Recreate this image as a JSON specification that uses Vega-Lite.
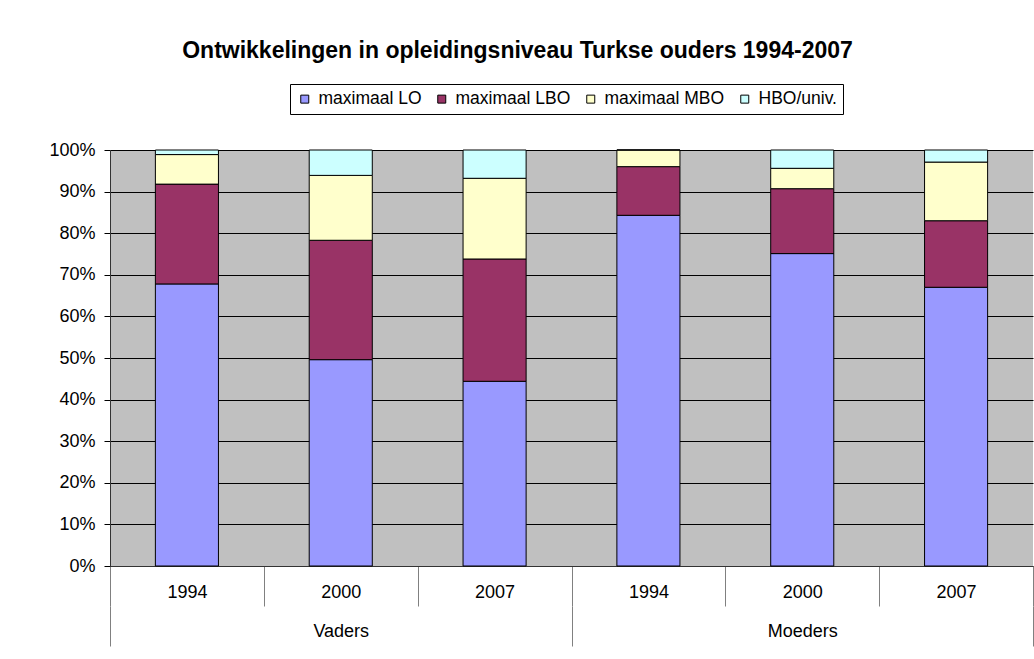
{
  "$schema": "https://vega.github.io/schema/vega-lite/v6.json",
  "width": 923,
  "height": 416,
  "autosize": {"type": "none"},
  "padding": {"left": 110, "top": 150, "right": 1, "bottom": 93},
  "background": "white",
  "title": {
    "text": "Ontwikkelingen in opleidingsniveau Turkse ouders 1994-2007",
    "font": "Liberation Sans",
    "fontSize": 23,
    "fontWeight": "bold",
    "color": "black",
    "anchor": "middle",
    "frame": "group",
    "dx": -54,
    "offset": 21
  },
  "config": {
    "view": {"fill": "#C0C0C0", "stroke": null},
    "font": "Liberation Sans"
  },
  "data": {
    "values": [
      {"group": "Vaders", "key": "Vaders 1994", "level": "maximaal LO", "share": 0.678},
      {"group": "Vaders", "key": "Vaders 1994", "level": "maximaal LBO", "share": 0.240},
      {"group": "Vaders", "key": "Vaders 1994", "level": "maximaal MBO", "share": 0.071},
      {"group": "Vaders", "key": "Vaders 1994", "level": "HBO/univ.", "share": 0.011},
      {"group": "Vaders", "key": "Vaders 2000", "level": "maximaal LO", "share": 0.496},
      {"group": "Vaders", "key": "Vaders 2000", "level": "maximaal LBO", "share": 0.287},
      {"group": "Vaders", "key": "Vaders 2000", "level": "maximaal MBO", "share": 0.156},
      {"group": "Vaders", "key": "Vaders 2000", "level": "HBO/univ.", "share": 0.061},
      {"group": "Vaders", "key": "Vaders 2007", "level": "maximaal LO", "share": 0.444},
      {"group": "Vaders", "key": "Vaders 2007", "level": "maximaal LBO", "share": 0.294},
      {"group": "Vaders", "key": "Vaders 2007", "level": "maximaal MBO", "share": 0.194},
      {"group": "Vaders", "key": "Vaders 2007", "level": "HBO/univ.", "share": 0.068},
      {"group": "Moeders", "key": "Moeders 1994", "level": "maximaal LO", "share": 0.843},
      {"group": "Moeders", "key": "Moeders 1994", "level": "maximaal LBO", "share": 0.117},
      {"group": "Moeders", "key": "Moeders 1994", "level": "maximaal MBO", "share": 0.040},
      {"group": "Moeders", "key": "Moeders 1994", "level": "HBO/univ.", "share": 0.0},
      {"group": "Moeders", "key": "Moeders 2000", "level": "maximaal LO", "share": 0.751},
      {"group": "Moeders", "key": "Moeders 2000", "level": "maximaal LBO", "share": 0.156},
      {"group": "Moeders", "key": "Moeders 2000", "level": "maximaal MBO", "share": 0.049},
      {"group": "Moeders", "key": "Moeders 2000", "level": "HBO/univ.", "share": 0.044},
      {"group": "Moeders", "key": "Moeders 2007", "level": "maximaal LO", "share": 0.670},
      {"group": "Moeders", "key": "Moeders 2007", "level": "maximaal LBO", "share": 0.160},
      {"group": "Moeders", "key": "Moeders 2007", "level": "maximaal MBO", "share": 0.141},
      {"group": "Moeders", "key": "Moeders 2007", "level": "HBO/univ.", "share": 0.029}
    ]
  },
  "layer": [
    {
      "transform": [
        {"calculate": "indexof(['maximaal LO', 'maximaal LBO', 'maximaal MBO', 'HBO/univ.'], datum.level)", "as": "stackOrder"}
      ],
      "mark": {"type": "bar", "stroke": "black", "strokeWidth": 1, "width": {"band": 0.41}},
      "encoding": {
        "x": {
          "field": "key",
          "type": "nominal",
          "sort": null,
          "scale": {"paddingInner": 0, "paddingOuter": 0},
          "axis": {
            "title": null,
            "orient": "bottom",
            "labelExpr": "split(datum.label, ' ')[1]",
            "labelAngle": 0,
            "labelFont": "Liberation Sans",
            "labelFontSize": 18,
            "labelColor": "black",
            "tickBand": "extent",
            "tickSize": 40,
            "tickColor": "#808080",
            "tickWidth": 1,
            "labelPadding": -23,
            "domain": true,
            "domainColor": "#333333",
            "grid": false
          }
        },
        "y": {
          "field": "share",
          "type": "quantitative",
          "stack": "zero",
          "scale": {"domain": [0, 1]},
          "axis": {
            "title": null,
            "format": ".0%",
            "values": [0, 0.1, 0.2, 0.3, 0.4, 0.5, 0.6, 0.7, 0.8, 0.9, 1],
            "labelFont": "Liberation Sans",
            "labelFontSize": 18,
            "labelColor": "black",
            "tickSize": 6,
            "tickColor": "#000000",
            "labelPadding": 9,
            "domainColor": "#333333",
            "grid": true,
            "gridColor": "#000000",
            "gridWidth": 1
          }
        },
        "order": {"field": "stackOrder", "type": "quantitative", "sort": "ascending"},
        "color": {
          "field": "level",
          "type": "nominal",
          "sort": ["maximaal LO", "maximaal LBO", "maximaal MBO", "HBO/univ."],
          "scale": {
            "domain": ["maximaal LO", "maximaal LBO", "maximaal MBO", "HBO/univ."],
            "range": ["#9999FF", "#993366", "#FFFFCC", "#CCFFFF"]
          },
          "legend": {
            "title": null,
            "orient": "none",
            "legendX": 180,
            "legendY": -66,
            "direction": "horizontal",
            "symbolType": "square",
            "symbolSize": 64,
            "symbolStrokeColor": "black",
            "symbolStrokeWidth": 1,
            "labelFont": "Liberation Sans",
            "labelFontSize": 17.5,
            "labelColor": "black",
            "strokeColor": "black",
            "fillColor": "white",
            "padding": 6,
            "columnPadding": 11,
            "labelOffset": 5
          }
        }
      }
    },
    {
      "mark": {"type": "bar", "opacity": 0},
      "encoding": {
        "x": {
          "field": "group",
          "type": "nominal",
          "sort": ["Vaders", "Moeders"],
          "scale": {"paddingInner": 0, "paddingOuter": 0},
          "axis": {
            "title": null,
            "orient": "bottom",
            "offset": 40,
            "labelAngle": 0,
            "labelFont": "Liberation Sans",
            "labelFontSize": 18,
            "labelColor": "black",
            "tickBand": "extent",
            "tickSize": 40,
            "tickColor": "#808080",
            "tickWidth": 1,
            "labelPadding": -24,
            "domain": false,
            "grid": false
          }
        }
      }
    }
  ],
  "resolve": {"scale": {"x": "independent"}}
}
